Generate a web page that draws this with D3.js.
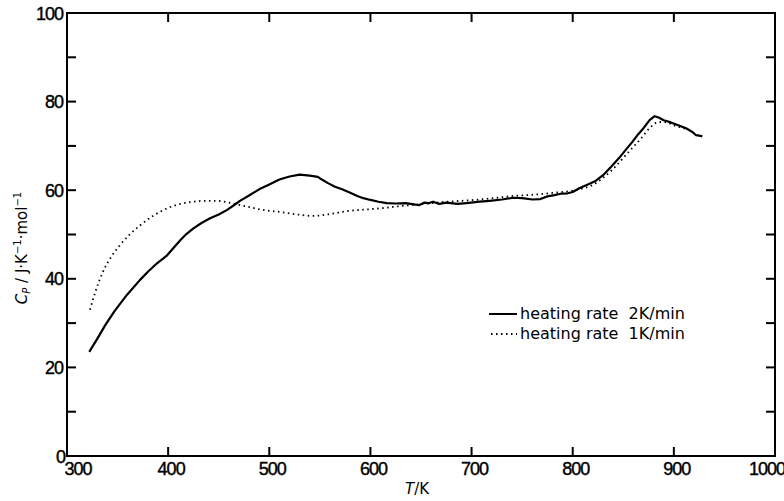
<!DOCTYPE html>
<html><head><meta charset="utf-8">
<script src="https://cdn.jsdelivr.net/npm/d3@7"></script>
<style>
body{margin:0;background:#fff;}
svg{display:block;}
text{fill:#000;}
</style></head>
<body><svg id="c" width="784" height="501"></svg>
<script>
// ---- data ----
const xTickValues = [300,400,500,600,700,800,900,1000];
const yTickValues = [0,20,40,60,80,100];
const yMinorTicks = [10,20,30,40,50,60,70,80,90];
const xInnerTicks = [400,500,600,700,800,900];

const series2Label = "heating rate  2K/min";
const series1Label = "heating rate  1K/min";

const temp2 = [322,330,338,347,359,372,380,389,399,405,412,418,425,433,441,450,458,465,471,480,490,500,510,520,530,540,548,552,558,565,572,580,587,593,600,608,616,625,635,643,648,653,658,662,668,675,686,695,708,718,730,741,750,760,768,775,782,788,795,800,807,815,822,830,838,846,852,859,865,870,876,881,885,890,897,905,912,918,922,928];
const cp2   = [23.5,26.5,29.6,32.7,36.3,39.7,41.6,43.5,45.3,46.9,48.7,50.1,51.4,52.6,53.6,54.5,55.5,56.6,57.6,58.8,60.2,61.3,62.4,63.1,63.5,63.3,63,62.4,61.6,60.8,60.2,59.4,58.7,58.2,57.8,57.4,57.1,57,57.1,56.8,56.6,57.2,57.1,57.4,56.9,57.2,56.9,57.1,57.4,57.6,57.9,58.3,58.2,57.9,58,58.6,58.9,59.2,59.3,59.6,60.5,61.3,62,63.4,65.3,67.3,69,70.9,72.7,74,75.8,76.7,76.4,75.8,75.3,74.6,74,73.2,72.4,72.2];

const temp1 = [322.7,328,335,343,352,362,372,385,399,412,424.6,436,448,462,478,495,510,525,543,560,577,593,609.5,625,642,658,675,690,708,725,741,755,768,785,800,810,820,830,840,850,860,868,876,885,893,900,908,915,922,928];
const cp1   = [33,37,41.3,44.7,47.5,50,52,54.2,55.9,56.9,57.4,57.6,57.6,57.1,56.3,55.5,55.1,54.6,54.2,54.6,55.3,55.6,55.9,56.3,56.7,57,57.4,57.6,57.9,58.3,58.7,58.9,59.1,59.5,59.9,60.4,61.2,62.8,64.8,67.3,69.8,71.8,74,75.4,75.3,74.6,74.1,73.6,72.6,72.1];

// ---- layout ----
const svg = d3.select("#c");
const L = 67, R = 775, T = 13, B = 456;
const x = d3.scaleLinear().domain([300,1000]).range([L,R]);
const y = d3.scaleLinear().domain([0,100]).range([B,T]);
const numFont = "'Liberation Sans', Arial, sans-serif";
const txtFont = "'DejaVu Sans', sans-serif";

// frame
svg.append("rect").attr("x",L).attr("y",T).attr("width",R-L).attr("height",B-T)
  .attr("fill","none").attr("stroke","#000").attr("stroke-width",2);

const tl = 9;
const g = svg.append("g").attr("stroke","#000").attr("stroke-width",2);
xInnerTicks.forEach(v=>{
  g.append("line").attr("x1",x(v)).attr("x2",x(v)).attr("y1",B).attr("y2",B-tl);
  g.append("line").attr("x1",x(v)).attr("x2",x(v)).attr("y1",T).attr("y2",T+tl);
});
yMinorTicks.forEach(v=>{
  g.append("line").attr("x1",L).attr("x2",L+tl).attr("y1",y(v)).attr("y2",y(v));
  g.append("line").attr("x1",R).attr("x2",R-tl).attr("y1",y(v)).attr("y2",y(v));
});

// x tick labels
svg.append("g").selectAll("text").data(xTickValues).join("text")
  .attr("x",d=> d===300 ? x(d)+11 : (d===1000 ? x(d)-8 : x(d)+3))
  .attr("y",475).attr("text-anchor","middle")
  .style("font-family",numFont).style("font-size","18px").attr("letter-spacing",-1)
  .attr("stroke","#000").attr("stroke-width",0.4)
  .text(d=>d);
// y tick labels
svg.append("g").selectAll("text").data(yTickValues).join("text")
  .attr("x",d=> d===0 ? 65 : 63).attr("y",d=>y(d)+6.5).attr("text-anchor","end")
  .style("font-family",numFont).style("font-size","18px").attr("letter-spacing",-1)
  .attr("stroke","#000").attr("stroke-width",0.4)
  .text(d=>d);

// axis titles
const xt = svg.append("text").attr("x",417).attr("y",494).attr("text-anchor","middle")
  .style("font-family",txtFont).style("font-size","15px");
xt.append("tspan").attr("font-style","italic").text("T");
xt.append("tspan").text("/K");

const yt = svg.append("text").attr("transform","translate(27,248) rotate(-90)")
  .attr("text-anchor","middle").style("font-family",txtFont).style("font-size","15px");
yt.append("tspan").attr("font-style","italic").text("C");
yt.append("tspan").attr("font-style","italic").style("font-size","10px").attr("dy",3).text("P");
yt.append("tspan").attr("dy",-3).text(" / J·K");
yt.append("tspan").style("font-size","10px").attr("dy",-6).text("−1");
yt.append("tspan").attr("dy",6).text("·mol");
yt.append("tspan").style("font-size","10px").attr("dy",-6).text("−1");

// lines
const d2 = temp2.map((t,i)=>[t,cp2[i]]);
const d1 = temp1.map((t,i)=>[t,cp1[i]]);
svg.append("path").datum(d1)
  .attr("d",d3.line().x(d=>x(d[0])).y(d=>y(d[1])).curve(d3.curveMonotoneX))
  .attr("fill","none").attr("stroke","#000").attr("stroke-width",1.8)
  .attr("stroke-dasharray","1.5,3.5");
svg.append("path").datum(d2)
  .attr("d",d3.line().x(d=>x(d[0])).y(d=>y(d[1])))
  .attr("fill","none").attr("stroke","#000").attr("stroke-width",2.2).attr("stroke-linejoin","round");

// legend
const lg = svg.append("g");
lg.append("line").attr("x1",489).attr("x2",517).attr("y1",314).attr("y2",314)
  .attr("stroke","#000").attr("stroke-width",2);
lg.append("line").attr("x1",491).attr("x2",517).attr("y1",334).attr("y2",334)
  .attr("stroke","#000").attr("stroke-width",1.8).attr("stroke-dasharray","1.5,3.5");
lg.append("text").attr("x",520).attr("y",319).style("font-family",txtFont).style("font-size","16px")
  .style("white-space","pre").text(series2Label);
lg.append("text").attr("x",520).attr("y",339).style("font-family",txtFont).style("font-size","16px")
  .style("white-space","pre").text(series1Label);
</script></body></html>
